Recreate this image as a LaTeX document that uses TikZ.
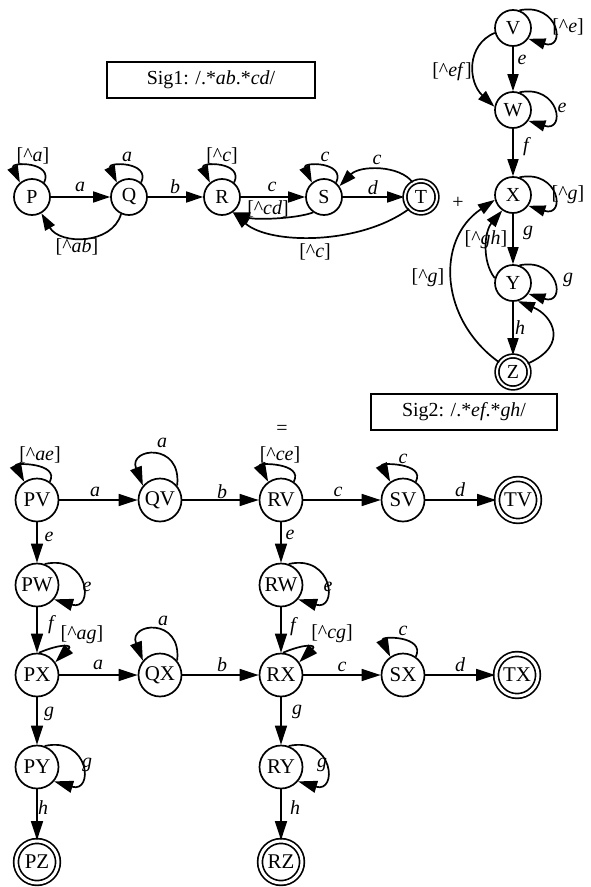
\documentclass[tikz,border=0pt]{standalone}
\usepackage{fontspec}
\setmainfont{Liberation Serif}
\usetikzlibrary{arrows.meta}
\newcommand{\cx}{\textasciicircum}
\begin{document}
\begin{tikzpicture}[x=1bp,y=-1bp,
  st/.style={circle,draw,line width=1.7bp,minimum size=36bp,inner sep=0pt,font=\fontsize{20}{23}\selectfont},
  acc/.style={st,double,double distance=2bp,minimum size=32bp},
  bst/.style={st,minimum size=43bp,font=\fontsize{21}{24}\selectfont},
  bacc/.style={bst,double,double distance=3bp,minimum size=42bp},
  lb/.style={inner sep=0pt,font=\fontsize{20}{23}\selectfont},
  ar/.style={line width=1.7bp,-{Triangle[length=17bp,width=11bp]}},
  bar/.style={line width=1.7bp,-{Triangle[length=19bp,width=12bp]}},
  box/.style={draw,line width=1.7bp,minimum height=36bp,inner sep=0pt,font=\fontsize{20}{23}\selectfont}]
\useasboundingbox (0,0) rectangle (591,887);
% signatures
\node[box,minimum width=208bp] (sig1) at (211,80) {Sig1: /.*\textit{ab}.*\textit{cd}/};
\node[box,minimum width=186bp] (sig2) at (464,412) {Sig2: /.*\textit{ef}.*\textit{gh}/};
\node[lb] (plus) at (458,203) {+};
\node[lb] (eq) at (282,430) {=};
% top automaton 1
\node[st] (P) at (32,197) {P};
\node[st] (Q) at (129,197) {Q};
\node[st] (R) at (222,197) {R};
\node[st] (S) at (324,197) {S};
\node[acc] (T) at (421,197) {T};
% top automaton 2
\node[st] (V) at (513,28) {V};
\node[st] (W) at (513,110) {W};
\node[st] (X) at (513,195) {X};
\node[st] (Y) at (513,283) {Y};
\node[acc] (Z) at (513,372) {Z};
% product
\node[bst] (PV) at (37,500) {PV};
\node[bst] (QV) at (160,500) {QV};
\node[bst] (RV) at (281,500) {RV};
\node[bst] (SV) at (403,500) {SV};
\node[bacc] (TV) at (518,500) {TV};
\node[bst] (PW) at (37,585) {PW};
\node[bst] (RW) at (281,585) {RW};
\node[bst] (PX) at (37,675) {PX};
\node[bst] (QX) at (160,675) {QX};
\node[bst] (RX) at (281,675) {RX};
\node[bst] (SX) at (403,675) {SX};
\node[bacc] (TX) at (517,675) {TX};
\node[bst] (PY) at (37,767) {PY};
\node[bst] (RY) at (281,767) {RY};
\node[bacc] (PZ) at (37,862) {PZ};
\node[bacc] (RZ) at (281,862) {RZ};
% ---- edges automaton 1
\draw[ar] (P) -- (Q);
\draw[ar] (Q) -- (R);
\draw[ar] (R) -- (S);
\draw[ar] (S) -- (T);
\draw[ar] (P.50) .. controls +(10,-21) and +(-10,-21) .. (P.130);
\draw[ar] (Q.50) .. controls +(10,-21) and +(-10,-21) .. (Q.130);
\draw[ar] (R.50) .. controls +(10,-21) and +(-10,-21) .. (R.130);
\draw[ar] (S.50) .. controls +(10,-21) and +(-10,-21) .. (S.130);
\draw[ar] (Q.-115) .. controls (112,245) and (60,245) .. (P.-60);
\draw[ar] (S.-125) .. controls (295,219) and (255,220) .. (R.-55);
\draw[ar] (T.-135) .. controls (360,245) and (270,245) .. (R.-55);
\draw[ar] (T.120) .. controls (400,165) and (360,165) .. (S.35);
\node[lb] (l1) at (33,156) {[\cx\textit{a}]};
\node[lb] (l2) at (127,157) {\textit{a}};
\node[lb] (l3) at (80,187) {\textit{a}};
\node[lb] (l4) at (175,187) {\textit{b}};
\node[lb] (l5) at (222,156) {[\cx\textit{c}]};
\node[lb] (l6) at (272,187) {\textit{c}};
\node[lb] (l7) at (325,157) {\textit{c}};
\node[lb] (l8) at (268,209) {[\cx\textit{cd}]};
\node[lb] (l9) at (77,247) {[\cx\textit{ab}]};
\node[lb] (l10) at (315,252) {[\cx\textit{c}]};
\node[lb] (l11) at (373,188) {\textit{d}};
\node[lb] (l12) at (377,160) {\textit{c}};
% ---- edges automaton 2
\draw[ar] (V) -- (W);
\draw[ar] (W) -- (X);
\draw[ar] (X) -- (Y);
\draw[ar] (Y) -- (Z);
\draw[ar] (V.70) .. controls +(40,-8) and +(38,12) .. (V.-35);
\draw[ar] (W.70) .. controls +(40,-8) and +(38,12) .. (W.-35);
\draw[ar] (X.70) .. controls +(40,-8) and +(38,12) .. (X.-35);
\draw[ar] (Y.70) .. controls +(40,-8) and +(38,12) .. (Y.-35);
\draw[ar] (V.-165) .. controls (466,45) and (468,82) .. (W.170);
\draw[ar] (Y.165) .. controls (482,262) and (484,232) .. (X.-125);
\draw[ar] (Z.145) .. controls (440,320) and (435,240) .. (X.-165);
\draw[ar] (Z.30) .. controls (570,345) and (552,315) .. (Y.-75);
\node[lb] (m1) at (568,27) {[\cx\textit{e}]};
\node[lb] (m2) at (522,60) {\textit{e}};
\node[lb] (m3) at (452,72) {[\cx\textit{ef}]};
\node[lb] (m4) at (562,108) {\textit{e}};
\node[lb] (m5) at (527,147) {\textit{f}};
\node[lb] (m6) at (568,195) {[\cx\textit{g}]};
\node[lb] (m7) at (528,233) {\textit{g}};
\node[lb] (m8) at (486,240) {[\cx\textit{gh}]};
\node[lb] (m9) at (428,278) {[\cx\textit{g}]};
\node[lb] (m10) at (568,280) {\textit{g}};
\node[lb] (m11) at (520,328) {\textit{h}};
% ---- product edges
\draw[bar] (PV) -- (QV);
\draw[bar] (QV) -- (RV);
\draw[bar] (RV) -- (SV);
\draw[bar] (SV) -- (TV);
\draw[bar] (PV) -- (PW);
\draw[bar] (RV) -- (RW);
\draw[bar] (PW) -- (PX);
\draw[bar] (RW) -- (RX);
\draw[bar] (PX) -- (QX);
\draw[bar] (QX) -- (RX);
\draw[bar] (RX) -- (SX);
\draw[bar] (SX) -- (TX);
\draw[bar] (PX) -- (PY);
\draw[bar] (RX) -- (RY);
\draw[bar] (PY) -- (PZ);
\draw[bar] (RY) -- (RZ);
\draw[bar] (PV.55) .. controls +(10,-19) and +(-10,-19) .. (PV.125);
\draw[bar] (RV.55) .. controls +(10,-19) and +(-10,-19) .. (RV.125);
\draw[bar] (SV.55) .. controls +(10,-19) and +(-10,-19) .. (SV.125);
\draw[bar] (QV.40) .. controls +(5,-44) and +(-15,-38) .. (QV.140);
\draw[bar] (QX.40) .. controls +(5,-44) and +(-15,-38) .. (QX.140);
\draw[bar] (SX.55) .. controls +(10,-21) and +(-10,-21) .. (SX.125);
\draw[bar] (PW.70) .. controls +(45,-10) and +(40,12) .. (PW.-40);
\draw[bar] (RW.70) .. controls +(45,-10) and +(40,12) .. (RW.-40);
\draw[bar] (PY.70) .. controls +(45,-10) and +(40,12) .. (PY.-40);
\draw[bar] (RY.70) .. controls +(45,-10) and +(40,12) .. (RY.-40);
\draw[bar] (PX.85) .. controls +(21,-9) and +(18,-18) .. (PX.35);
\draw[bar] (RX.85) .. controls +(21,-9) and +(18,-18) .. (RX.35);
\node[lb] (n1) at (40,455) {[\cx\textit{ae}]};
\node[lb] (n2) at (162,443) {\textit{a}};
\node[lb] (n3) at (95,492) {\textit{a}};
\node[lb] (n4) at (222,492) {\textit{b}};
\node[lb] (n5) at (280,455) {[\cx\textit{ce}]};
\node[lb] (n6) at (338,492) {\textit{c}};
\node[lb] (n7) at (403,459) {\textit{c}};
\node[lb] (n8) at (460,490) {\textit{d}};
\node[lb] (n9) at (49,537) {\textit{e}};
\node[lb] (n10) at (290,535) {\textit{e}};
\node[lb] (n11) at (87,587) {\textit{e}};
\node[lb] (n12) at (328,587) {\textit{e}};
\node[lb] (n13) at (52,625) {\textit{f}};
\node[lb] (n14) at (294,627) {\textit{f}};
\node[lb] (n15) at (82,635) {[\cx\textit{ag}]};
\node[lb] (n16) at (332,634) {[\cx\textit{cg}]};
\node[lb] (n17) at (98,665) {\textit{a}};
\node[lb] (n18) at (163,621) {\textit{a}};
\node[lb] (n19) at (222,665) {\textit{b}};
\node[lb] (n20) at (342,667) {\textit{c}};
\node[lb] (n21) at (403,631) {\textit{c}};
\node[lb] (n22) at (460,665) {\textit{d}};
\node[lb] (n23) at (49,714) {\textit{g}};
\node[lb] (n24) at (297,712) {\textit{g}};
\node[lb] (n25) at (87,765) {\textit{g}};
\node[lb] (n26) at (322,765) {\textit{g}};
\node[lb] (n27) at (43,808) {\textit{h}};
\node[lb] (n28) at (295,808) {\textit{h}};
\end{tikzpicture}
\end{document}
